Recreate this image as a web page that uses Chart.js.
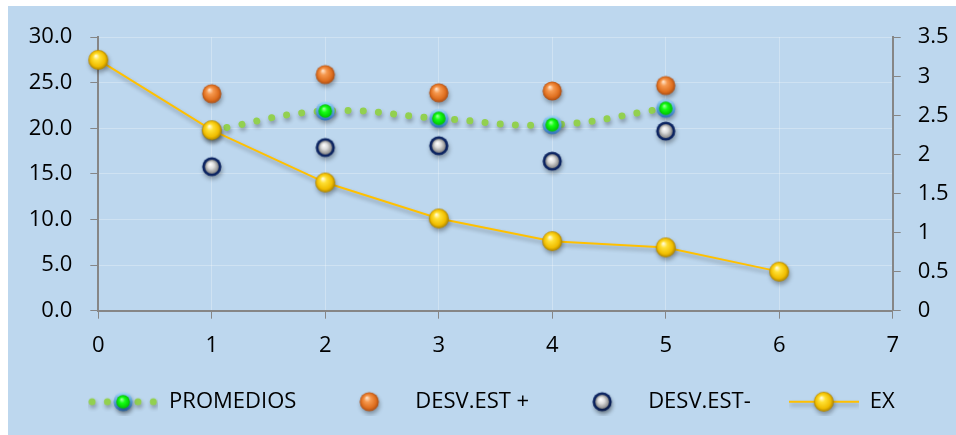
<!DOCTYPE html>
<html>
<head>
<meta charset="utf-8">
<script src="https://cdn.jsdelivr.net/npm/chart.js@4.4.1/dist/chart.umd.min.js"></script>
<style>
  html, body { margin: 0; padding: 0; background: #ffffff; }
  #marco { position: absolute; left: 8px; top: 6px; width: 948px; height: 429px; background: #bdd7ee; }
  canvas { display: block; }
</style>
</head>
<body>
<div id="marco"><canvas id="grafico" width="948" height="429"></canvas></div>
<script>
// Grupos (eje X) y estadísticas por grupo (eje izquierdo)
const grupos = [1, 2, 3, 4, 5];
const promedios = [19.8, 21.9, 21.1, 20.4, 22.2];
const desvMas = [23.8, 25.9, 23.9, 24.1, 24.7];
const desvMenos = [15.8, 17.9, 18.1, 16.4, 19.7];

// Serie EX (eje derecho)
const exX = [0, 1, 2, 3, 4, 5, 6];
const exValores = [3.21, 2.31, 1.64, 1.18, 0.89, 0.81, 0.50];

// Rangos y pasos de los ejes
const ejeX = { min: 0, max: 7, paso: 1 };
const ejeIzq = { min: 0, max: 30, paso: 5 };
const ejeDer = { min: 0, max: 3.5, paso: 0.5 };

const nombres = ['PROMEDIOS', 'DESV.EST +', 'DESV.EST-', 'EX'];
const FUENTE = { family: '"Open Sans", sans-serif', size: 22 };

// --- Marcadores tipo esfera ---
function pintarEsfera(ctx, cx, cy, tipo) {
  let g;
  if (tipo === 'naranja' || tipo === 'amarillo') {
    const r = tipo === 'amarillo' ? 10 : 9.6;
    g = ctx.createRadialGradient(cx - 2.5, cy - 4, 0.5, cx, cy, r);
    if (tipo === 'naranja') {
      g.addColorStop(0, '#ffe1c6'); g.addColorStop(0.3, '#f6994f');
      g.addColorStop(0.75, '#df6f1f'); g.addColorStop(1, '#a94d14');
    } else {
      g.addColorStop(0, '#fffbd6'); g.addColorStop(0.3, '#ffe033');
      g.addColorStop(0.75, '#f0bd00'); g.addColorStop(1, '#a98000');
    }
    ctx.fillStyle = g;
    ctx.beginPath(); ctx.arc(cx, cy, r, 0, Math.PI * 2); ctx.fill();
  } else if (tipo === 'verde') {
    g = ctx.createLinearGradient(cx, cy - 9.5, cx, cy + 9.5);
    g.addColorStop(0, '#a6d6f8'); g.addColorStop(0.5, '#5aa2de'); g.addColorStop(1, '#3272b8');
    ctx.fillStyle = g;
    ctx.beginPath(); ctx.arc(cx, cy, 9.6, 0, Math.PI * 2); ctx.fill();
    g = ctx.createRadialGradient(cx - 1.5, cy - 2.5, 0.3, cx, cy, 6.8);
    g.addColorStop(0, '#9dff9d'); g.addColorStop(0.4, '#14ff14'); g.addColorStop(1, '#00c000');
    ctx.fillStyle = g;
    ctx.beginPath(); ctx.arc(cx, cy, 6.8, 0, Math.PI * 2); ctx.fill();
  } else {
    ctx.fillStyle = '#0c2461';
    ctx.beginPath(); ctx.arc(cx, cy, 9.6, 0, Math.PI * 2); ctx.fill();
    g = ctx.createRadialGradient(cx - 1.5, cy - 2.5, 0.3, cx, cy, 6.9);
    g.addColorStop(0, '#ffffff'); g.addColorStop(0.45, '#dcdcdc'); g.addColorStop(1, '#868686');
    ctx.fillStyle = g;
    ctx.beginPath(); ctx.arc(cx, cy, 6.9, 0, Math.PI * 2); ctx.fill();
  }
}

function conSombra(ctx) {
  ctx.shadowColor = 'rgba(0,0,0,0.32)';
  ctx.shadowBlur = 4;
  ctx.shadowOffsetX = 1;
  ctx.shadowOffsetY = 3;
}

function esfera(tipo) {
  const c = document.createElement('canvas');
  c.width = 30; c.height = 30;
  pintarEsfera(c.getContext('2d'), 15, 15, tipo);
  return c;
}

// Símbolos de la leyenda: línea + marcador, 70 px de ancho
function simbolo(tipo, linea) {
  const c = document.createElement('canvas');
  c.width = 70; c.height = 28;
  const ctx = c.getContext('2d');
  const cy = 14;
  conSombra(ctx);
  if (linea === 'puntos') {
    ctx.fillStyle = '#92d050';
    for (let x = 4; x < 70; x += 15.3) {
      ctx.beginPath(); ctx.arc(x, cy, 3.5, 0, Math.PI * 2); ctx.fill();
    }
  } else if (linea === 'continua') {
    ctx.strokeStyle = '#ffc000'; ctx.lineWidth = 2;
    ctx.beginPath(); ctx.moveTo(0, cy); ctx.lineTo(70, cy); ctx.stroke();
  }
  pintarEsfera(ctx, 35, cy, tipo);
  return c;
}

const marcas = { verde: esfera('verde'), naranja: esfera('naranja'), azul: esfera('azul'), amarillo: esfera('amarillo') };
const simbolosLeyenda = [
  simbolo('verde', 'puntos'),
  simbolo('naranja', null),
  simbolo('azul', null),
  simbolo('amarillo', 'continua')
];

// Sombra suave bajo líneas y marcadores
const sombraSeries = {
  id: 'sombraSeries',
  beforeDatasetsDraw(chart) { chart.ctx.save(); conSombra(chart.ctx); },
  afterDatasetsDraw(chart) { chart.ctx.restore(); }
};

const pares = (xs, ys) => xs.map((x, i) => ({ x: x, y: ys[i] }));

const gris = '#868686';
const rejilla = 'rgba(255,255,255,0.28)';

function crear() {
  new Chart(document.getElementById('grafico'), {
    type: 'line',
    data: {
      datasets: [
        {
          label: nombres[0], data: pares(grupos, promedios), yAxisID: 'y',
          borderColor: '#92d050', borderWidth: 7, borderDash: [0.01, 15.3], borderCapStyle: 'round',
          tension: 0.45, pointStyle: marcas.verde, pointRadius: 10, order: 3, clip: false
        },
        {
          label: nombres[1], data: pares(grupos, desvMas), yAxisID: 'y', showLine: false,
          pointStyle: marcas.naranja, pointRadius: 10, order: 2, clip: false
        },
        {
          label: nombres[2], data: pares(grupos, desvMenos), yAxisID: 'y', showLine: false,
          pointStyle: marcas.azul, pointRadius: 10, order: 1, clip: false
        },
        {
          label: nombres[3], data: pares(exX, exValores), yAxisID: 'y2',
          borderColor: '#ffc000', borderWidth: 2, tension: 0,
          pointStyle: marcas.amarillo, pointRadius: 10, order: 0, clip: false
        }
      ]
    },
    options: {
      responsive: false,
      animation: false,
      events: [],
      layout: { padding: { left: 18.8, top: 29.5, right: 0, bottom: 12.3 } },
      scales: {
        x: {
          type: 'linear', min: ejeX.min, max: ejeX.max,
          ticks: { stepSize: ejeX.paso, color: '#000', font: FUENTE, padding: 14, maxRotation: 0 },
          grid: { color: rejilla, tickColor: gris, tickLength: 8 },
          border: { color: gris, width: 2 },
          afterFit(s) { s.height = 42; }
        },
        y: {
          position: 'left', min: ejeIzq.min, max: ejeIzq.max,
          ticks: { stepSize: ejeIzq.paso, color: '#000', font: FUENTE, padding: 18,
                   callback: v => Number(v).toFixed(1) },
          grid: { color: rejilla, tickColor: gris, tickLength: 8 },
          border: { color: gris, width: 2 },
          afterFit(s) { s.width = 71.5; }
        },
        y2: {
          position: 'right', min: ejeDer.min, max: ejeDer.max,
          ticks: { stepSize: ejeDer.paso, color: '#000', font: FUENTE, padding: 17,
                   callback: v => String(Number(Number(v).toFixed(2))) },
          grid: { drawOnChartArea: false, tickColor: gris, tickLength: 8 },
          border: { color: gris, width: 2 },
          afterFit(s) { s.width = 63.3; }
        }
      },
      plugins: {
        tooltip: { enabled: false },
        legend: {
          position: 'bottom', align: 'center',
          labels: {
            usePointStyle: true, pointStyleWidth: 70, padding: 38,
            color: '#000', font: FUENTE,
            sort: (a, b) => a.datasetIndex - b.datasetIndex,
            generateLabels(chart) {
              const items = Chart.defaults.plugins.legend.labels.generateLabels(chart);
              items.forEach(it => { it.pointStyle = simbolosLeyenda[it.datasetIndex]; });
              return items;
            }
          }
        }
      }
    },
    plugins: [sombraSeries]
  });
}

if (document.fonts && document.fonts.load) {
  document.fonts.load('22px "Open Sans"').then(crear, crear);
} else {
  crear();
}
</script>
</body>
</html>
